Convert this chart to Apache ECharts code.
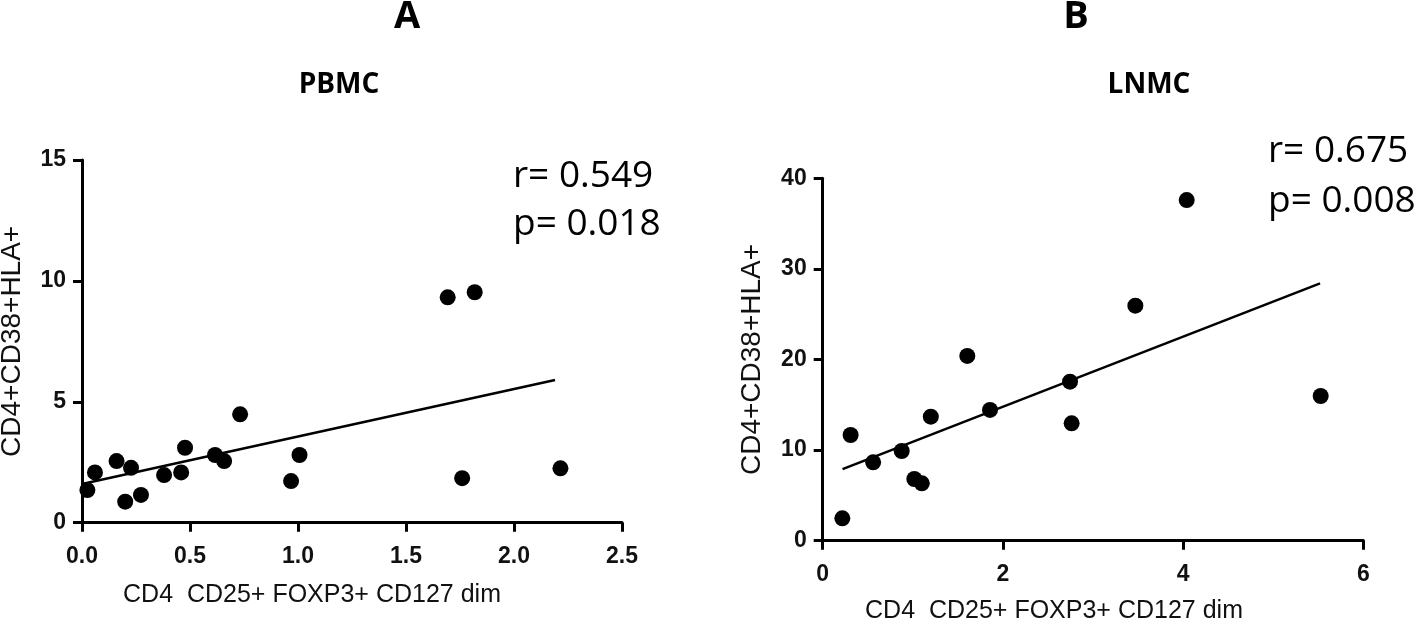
<!DOCTYPE html>
<html>
<head>
<meta charset="utf-8">
<script src="https://cdn.jsdelivr.net/npm/echarts@6/dist/echarts.min.js"></script>
<style>html,body{margin:0;padding:0;background:#fff;}#c{width:1418px;height:620px;}</style>
</head>
<body>
<div id="c"></div>
<script>
// Panel A: PBMC
const pbmcX = [0.025, 0.06, 0.16, 0.227, 0.20, 0.273, 0.38, 0.459, 0.477, 0.616, 0.658, 0.732, 0.968, 1.007, 1.693, 1.818, 1.76, 2.215];
const pbmcY = [1.35, 2.08, 2.55, 2.27, 0.87, 1.15, 1.97, 2.08, 3.10, 2.80, 2.55, 4.48, 1.72, 2.80, 9.32, 9.53, 1.84, 2.25];
const pbmcFitX = [0.0, 2.19];
const pbmcFitY = [1.6, 5.9];
// Panel B: LNMC
const lnmcX = [0.218, 0.31, 0.56, 0.877, 1.017, 1.10, 1.2, 1.605, 1.857, 2.745, 2.763, 3.47, 4.04, 5.527];
const lnmcY = [2.47, 11.67, 8.65, 9.9, 6.81, 6.33, 13.69, 20.39, 14.43, 17.55, 12.96, 25.94, 37.6, 15.97];
const lnmcFitX = [0.22, 5.52];
const lnmcFitY = [7.9, 28.4];

const panelTitles = ['A', 'B'];
const sampleTitles = ['PBMC', 'LNMC'];
const statsA = ['r= 0.549', 'p= 0.018'];
const statsB = ['r= 0.675', 'p= 0.008'];
const xName = 'CD4  CD25+ FOXP3+ CD127 dim';
const yName = 'CD4+CD38+HLA+';

const zip = (a, b) => a.map((v, i) => [v, b[i]]);

const labelStyle = { color: '#111', fontFamily: 'Liberation Sans', fontWeight: 'bold', fontSize: 23 };
const axisCommon = {
  axisLine: { show: true, onZero: false, lineStyle: { color: '#000', width: 3 } },
  axisTick: { show: true, inside: false, length: 9, lineStyle: { color: '#000', width: 3 } },
  splitLine: { show: false }
};

const yNameStyle = { color: '#111', fontFamily: 'Liberation Sans', fontSize: 28 };

const chart = echarts.init(document.getElementById('c'), null, { renderer: 'canvas' });

const txt = (x, y, text, font, size, weight, align) => ({
  type: 'text', x: x, y: y, silent: true,
  style: { text: text, fontFamily: font, fontSize: size, fontWeight: weight, fill: '#000', align: align, verticalAlign: 'middle' }
});

chart.setOption({
  animation: false,
  backgroundColor: '#fff',
  grid: [
    { left: 82, top: 160, width: 540, height: 362.7, containLabel: false, outerBoundsMode: 'none' },
    { left: 822.7, top: 178.3, width: 540.6, height: 362.4, containLabel: false, outerBoundsMode: 'none' }
  ],
  xAxis: [
    Object.assign({}, axisCommon, { gridIndex: 0, type: 'value', min: 0, max: 2.5, interval: 0.5,
      axisLabel: Object.assign({}, labelStyle, { margin: 22, formatter: v => v.toFixed(1) }) }),
    Object.assign({}, axisCommon, { gridIndex: 1, type: 'value', min: 0, max: 6, interval: 2,
      axisLabel: Object.assign({}, labelStyle, { margin: 22 }) })
  ],
  yAxis: [
    Object.assign({}, axisCommon, { gridIndex: 0, type: 'value', min: 0, max: 15, interval: 5,
      name: yName, nameLocation: 'middle', nameGap: 56, nameTextStyle: yNameStyle,
      axisLabel: Object.assign({}, labelStyle, { margin: 16 }) }),
    Object.assign({}, axisCommon, { gridIndex: 1, type: 'value', min: 0, max: 40, interval: 10,
      name: yName, nameLocation: 'middle', nameGap: 56, nameTextStyle: yNameStyle,
      axisLabel: Object.assign({}, labelStyle, { margin: 16 }) })
  ],
  series: [
    { type: 'line', xAxisIndex: 0, yAxisIndex: 0, data: zip(pbmcFitX, pbmcFitY), showSymbol: false, symbol: 'none',
      lineStyle: { color: '#000', width: 2.5 }, z: 2 },
    { type: 'scatter', xAxisIndex: 0, yAxisIndex: 0, data: zip(pbmcX, pbmcY), symbol: 'circle', symbolSize: 16,
      itemStyle: { color: '#000', opacity: 1 }, z: 3 },
    { type: 'line', xAxisIndex: 1, yAxisIndex: 1, data: zip(lnmcFitX, lnmcFitY), showSymbol: false, symbol: 'none',
      lineStyle: { color: '#000', width: 2.5 }, z: 2 },
    { type: 'scatter', xAxisIndex: 1, yAxisIndex: 1, data: zip(lnmcX, lnmcY), symbol: 'circle', symbolSize: 16,
      itemStyle: { color: '#000', opacity: 1 }, z: 3 }
  ],
  graphic: [
    txt(407, 17, panelTitles[0], 'Open Sans', 38, 'bold', 'center'),
    txt(1076, 17, panelTitles[1], 'Open Sans', 38, 'bold', 'center'),
    txt(339, 85, sampleTitles[0], 'Open Sans', 28, 'bold', 'center'),
    txt(1149, 85, sampleTitles[1], 'Open Sans', 28, 'bold', 'center'),
    txt(513, 176.5, statsA[0], 'Open Sans', 37, 'normal', 'left'),
    txt(513, 224.5, statsA[1], 'Open Sans', 37, 'normal', 'left'),
    txt(1268, 151.5, statsB[0], 'Open Sans', 37, 'normal', 'left'),
    txt(1268, 201.5, statsB[1], 'Open Sans', 37, 'normal', 'left'),
    { type: 'text', x: 312, y: 595, silent: true,
      style: { text: xName, fontFamily: 'Liberation Sans', fontSize: 25, fill: '#111', align: 'center', verticalAlign: 'middle' } },
    { type: 'text', x: 1054, y: 611, silent: true,
      style: { text: xName, fontFamily: 'Liberation Sans', fontSize: 25, fill: '#111', align: 'center', verticalAlign: 'middle' } }
  ]
});
</script>
</body>
</html>
